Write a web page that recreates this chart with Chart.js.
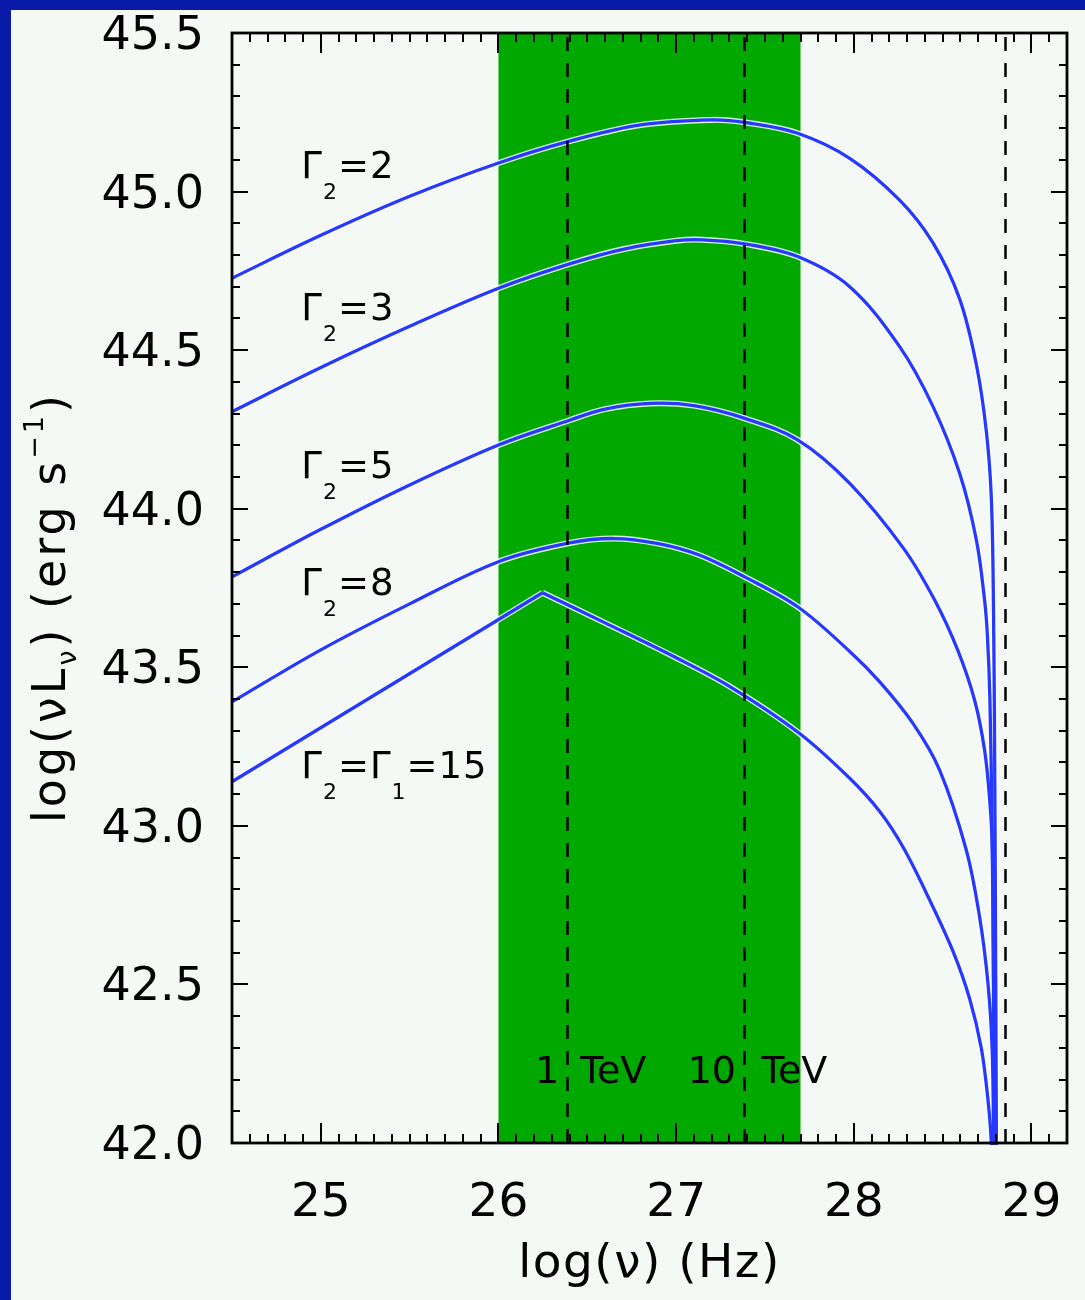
<!DOCTYPE html>
<html><head><meta charset="utf-8">
<script src="https://cdn.jsdelivr.net/npm/chart.js@4.4.1/dist/chart.umd.min.js"></script>
<style>html,body{margin:0;padding:0;background:#f4f9f6;}canvas{display:block;}</style>
</head><body>
<canvas id="c" width="1085" height="1300" style="width:1085px;height:1300px"></canvas>
<script>
// ---------- data ----------
const g2X = [24.5, 25.0, 25.5, 26.0, 26.4, 26.8, 27.2, 27.4, 27.684, 27.977, 28.258, 28.446, 28.596, 28.69, 28.746, 28.774, 28.786, 28.793, 28.799, 28.804];
const g2Y = [44.727, 44.862, 44.985, 45.09, 45.159, 45.21, 45.226, 45.217, 45.184, 45.105, 44.973, 44.838, 44.661, 44.454, 44.244, 44.034, 43.70, 43.2, 42.5, 41.8];

const g3X = [24.5, 25.0, 25.5, 26.0, 26.4, 26.7, 27.0, 27.15, 27.386, 27.684, 27.977, 28.258, 28.446, 28.596, 28.69, 28.736, 28.752, 28.766, 28.778, 28.786, 28.793];
const g3Y = [44.306, 44.445, 44.575, 44.695, 44.772, 44.818, 44.845, 44.848, 44.835, 44.795, 44.70, 44.511, 44.322, 44.111, 43.901, 43.712, 43.60, 43.40, 43.0, 42.5, 41.8];

const g5X = [24.5, 25.0, 25.5, 26.0, 26.4, 26.6, 26.85, 27.1, 27.386, 27.684, 27.977, 28.28, 28.455, 28.585, 28.68, 28.736, 28.765, 28.78, 28.787, 28.793];
const g5Y = [43.785, 43.935, 44.075, 44.201, 44.279, 44.314, 44.332, 44.325, 44.285, 44.217, 44.08, 43.875, 43.712, 43.554, 43.396, 43.239, 43.081, 42.924, 42.5, 41.8];

const g8X = [24.5, 25.0, 25.5, 26.0, 26.4, 26.65, 26.9, 27.13, 27.386, 27.686, 27.977, 28.146, 28.333, 28.483, 28.633, 28.708, 28.755, 28.779, 28.787, 28.792];
const g8Y = [43.391, 43.555, 43.700, 43.833, 43.892, 43.906, 43.89, 43.854, 43.785, 43.69, 43.55, 43.454, 43.323, 43.176, 42.924, 42.713, 42.504, 42.293, 42.0, 41.8];

const g15X = [24.5, 26.248, 26.6, 27.0, 27.3, 27.686, 27.977, 28.146, 28.28, 28.427, 28.558, 28.652, 28.718, 28.755, 28.774, 28.782];
const g15Y = [43.139, 43.735, 43.64, 43.53, 43.44, 43.295, 43.15, 43.045, 42.93, 42.766, 42.605, 42.455, 42.298, 42.137, 42.0, 41.8];

const seriesNames = ['Γ_2=2', 'Γ_2=3', 'Γ_2=5', 'Γ_2=8', 'Γ_2=Γ_1=15'];
const xTickValues = [25, 26, 27, 28, 29];
const yTickValues = [42.0, 42.5, 43.0, 43.5, 44.0, 44.5, 45.0, 45.5];
const bandRange = [26.0, 27.7];
const markerLines = [26.383, 27.383, 28.85];
const markerLabels = ['1 TeV', '10 TeV'];
const markerLabelX = [26.205, 27.065];
const markerLabelY = 42.19;
const curveLabelX = 24.89;
const curveLabelY = [45.043, 44.595, 44.097, 43.728, 43.151];

// ---------- styles ----------
const W = 1085, H = 1300;
const AREA = { left: 232, top: 33, right: 1067, bottom: 1143 };
const BLUE = '#2639ff';
const HALO = 'rgba(255,255,255,0.85)';
const GREEN = '#00a800';
const BG = '#f4f9f6';
const EDGE = '#0a1aa8';
const FONT = "'DejaVu Sans'";

function pts(X, Y) { return X.map((x, i) => ({ x: x, y: Y[i] })); }

const datasets = [];
function addCurve(points, name, tension) {
  const common = { data: points, pointRadius: 0, fill: false, clip: 2,
    cubicInterpolationMode: 'default', tension: tension };
  datasets.push(Object.assign({ label: name + ' halo', borderColor: HALO, borderWidth: 6, order: 2 }, common));
  datasets.push(Object.assign({ label: name, borderColor: BLUE, borderWidth: 3.3, order: 1 }, common));
}
addCurve(pts(g2X, g2Y), seriesNames[0], 0.35);
addCurve(pts(g3X, g3Y), seriesNames[1], 0.35);
addCurve(pts(g5X, g5Y), seriesNames[2], 0.35);
addCurve(pts(g8X, g8Y), seriesNames[3], 0.35);
// the Γ2=Γ1=15 curve has a sharp break at its maximum
const kink = g15Y.indexOf(Math.max.apply(null, g15Y));
addCurve(pts(g15X.slice(0, kink + 1), g15Y.slice(0, kink + 1)), seriesNames[4] + ' a', 0);
addCurve(pts(g15X.slice(kink), g15Y.slice(kink)), seriesNames[4] + ' b', 0.35);

function parseRich(s) {
  const parts = []; let buf = '';
  for (let i = 0; i < s.length; i++) {
    if (s[i] === '_' || s[i] === '^') {
      if (buf) { parts.push({ t: buf }); buf = ''; }
      parts.push({ t: s[i + 1], sub: s[i] === '_' }); i++;
    } else buf += s[i];
  }
  if (buf) parts.push({ t: buf });
  return parts;
}
function drawRich(c, x, y, parts, size, small, subDy, supDy, ls) {
  c.textAlign = 'left'; c.textBaseline = 'alphabetic';
  let cx = x;
  for (const p of parts) {
    const isSmall = p.sub !== undefined || p.sup;
    c.font = (isSmall ? small : size) + 'px ' + FONT;
    try { c.letterSpacing = ls + 'px'; } catch (e) {}
    const dy = p.sub === true ? subDy : (p.sup ? -supDy : 0);
    c.fillText(p.t, cx, y + dy);
    cx += c.measureText(p.t).width;
  }
  return cx - x;
}

const decor = {
  id: 'decor',
  beforeDraw(chart) {
    const c = chart.ctx, a = chart.chartArea, xs = chart.scales.x;
    c.save();
    c.fillStyle = EDGE; c.fillRect(0, 0, W, H);
    c.fillStyle = BG; c.fillRect(11, 10, W - 11, H - 10);
    const x0 = xs.getPixelForValue(bandRange[0]), x1 = xs.getPixelForValue(bandRange[1]);
    c.fillStyle = GREEN; c.fillRect(x0, a.top, x1 - x0, a.bottom - a.top);
    c.restore();
  },
  afterDatasetsDraw(chart) {
    const c = chart.ctx, a = chart.chartArea, xs = chart.scales.x, ys = chart.scales.y;
    c.save();
    c.strokeStyle = '#000'; c.lineWidth = 2.5; c.setLineDash([14, 12]);
    for (const v of markerLines) {
      const px = Math.round(xs.getPixelForValue(v)) + 0.5;
      c.beginPath(); c.moveTo(px, a.bottom); c.lineTo(px, a.top); c.stroke();
    }
    c.setLineDash([]);
    c.fillStyle = '#000'; c.font = '38px ' + FONT; c.textAlign = 'left'; c.textBaseline = 'alphabetic';
    const ws = [9, 13];
    markerLabels.forEach((t, i) => {
      try { c.wordSpacing = ws[i] + 'px'; } catch (e) {}
      c.fillText(t, xs.getPixelForValue(markerLabelX[i]), ys.getPixelForValue(markerLabelY));
    });
    try { c.wordSpacing = '0px'; } catch (e) {}
    seriesNames.forEach((s, i) => {
      drawRich(c, xs.getPixelForValue(curveLabelX), ys.getPixelForValue(curveLabelY[i]), parseRich(s), 37, 22, 21, 0, 1);
    });
    c.restore();
  },
  afterDraw(chart) {
    const c = chart.ctx, a = chart.chartArea, xs = chart.scales.x, ys = chart.scales.y;
    c.save();
    c.strokeStyle = '#000'; c.lineWidth = 2;
    c.beginPath();
    for (let i = Math.ceil(xs.min * 10); i <= Math.floor(xs.max * 10 + 1e-6); i++) {
      const px = Math.round(xs.getPixelForValue(i / 10));
      const L = (i % 10 === 0) ? 20 : 9;
      c.moveTo(px, a.bottom); c.lineTo(px, a.bottom - L);
      c.moveTo(px, a.top); c.lineTo(px, a.top + L);
    }
    for (let i = Math.ceil(ys.min * 10); i <= Math.floor(ys.max * 10 + 1e-6); i++) {
      const py = Math.round(ys.getPixelForValue(i / 10));
      const L = (i % 5 === 0) ? 16 : 8;
      c.moveTo(a.left, py); c.lineTo(a.left + L, py);
      c.moveTo(a.right, py); c.lineTo(a.right - L, py);
    }
    c.stroke();
    c.lineWidth = 2.8;
    c.strokeRect(a.left, a.top, a.right - a.left, a.bottom - a.top);
    c.fillStyle = '#000';
    c.font = '47px ' + FONT; c.textBaseline = 'alphabetic';
    try { c.letterSpacing = '1.5px'; } catch (e) {}
    const xt = 'log(ν) (Hz)';
    const w = c.measureText(xt).width;
    c.textAlign = 'left';
    c.fillText(xt, (a.left + a.right) / 2 - w / 2, 1277);
    c.translate(65, 823); c.rotate(-Math.PI / 2);
    drawRich(c, 0, 0, [{ t: 'log(νL' }, { t: 'ν', sub: true }, { t: ') (erg s' }, { t: '−1', sup: true }, { t: ')' }], 46, 27, 11, 22, 3);
    c.restore();
  }
};

new Chart(document.getElementById('c'), {
  type: 'line',
  data: { datasets: datasets },
  options: {
    responsive: false, animation: false, devicePixelRatio: 1,
    layout: { padding: { top: AREA.top, right: W - AREA.right, left: 0, bottom: 0 } },
    plugins: { legend: { display: false }, tooltip: { enabled: false } },
    scales: {
      x: {
        type: 'linear', min: 24.5, max: 29.2,
        afterBuildTicks: s => { s.ticks = xTickValues.map(v => ({ value: v })); },
        afterFit: s => { s.height = H - AREA.bottom; s.paddingLeft = 0; s.paddingRight = 0; s.paddingTop = 0; s.paddingBottom = 0; },
        grid: { display: false }, border: { display: false },
        ticks: { font: { family: 'DejaVu Sans', size: 47 }, color: '#000', padding: 25, maxRotation: 0, autoSkip: false,
          callback: v => String(v) }
      },
      y: {
        type: 'linear', min: 42, max: 45.5,
        afterBuildTicks: s => { s.ticks = yTickValues.map(v => ({ value: v })); },
        afterFit: s => { s.width = AREA.left; s.paddingLeft = 0; s.paddingRight = 0; s.paddingTop = 0; s.paddingBottom = 0; },
        grid: { display: false }, border: { display: false },
        ticks: { font: { family: 'DejaVu Sans', size: 46 }, color: '#000', padding: 20, labelOffset: 4, autoSkip: false,
          callback: v => Number(v).toFixed(1) }
      }
    }
  },
  plugins: [decor]
});
</script>
</body></html>
